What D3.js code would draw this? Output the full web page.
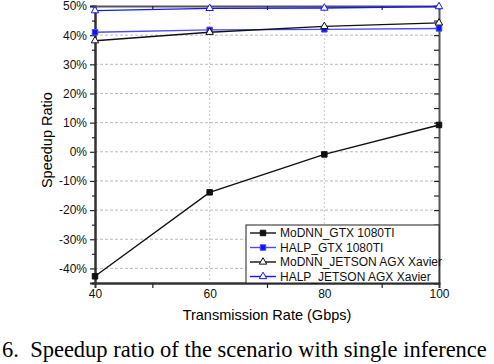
<!DOCTYPE html>
<html>
<head>
<meta charset="utf-8">
<script src="https://cdn.jsdelivr.net/npm/d3@7"></script>
<style>
  body { margin: 0; background: #fff; }
  svg { display: block; }
</style>
</head>
<body>
<script>
// Chart data
const rates = [40, 60, 80, 100];
const modnnGtx = [-42.7, -13.9, -0.9, 9.2];
const halpGtx = [41.0, 41.8, 42.0, 42.3];
const modnnJetson = [38.1, 41.0, 43.0, 44.2];
const halpJetson = [48.4, 49.2, 49.3, 49.8];
const seriesNames = ["MoDNN_GTX 1080TI", "HALP_GTX 1080TI", "MoDNN_JETSON AGX Xavier", "HALP_JETSON AGX Xavier"];
const yTicks = [-40, -30, -20, -10, 0, 10, 20, 30, 40, 50];

const width = 494, height = 364;
const margin = { top: 6, right: 55, bottom: 81, left: 95 };

const svg = d3.select("body").append("svg")
    .attr("width", width)
    .attr("height", height)
    .style("font-family", "'Liberation Sans', Arial, sans-serif");

const x = d3.scaleLinear().domain([40, 100]).range([margin.left, width - margin.right]);
const y = d3.scaleLinear().domain([-45, 50]).range([height - margin.bottom, margin.top]);

// grid lines
svg.append("g").selectAll("line.h")
    .data(yTicks.filter(d => d < 50))
    .enter().append("line")
    .attr("x1", x(40)).attr("x2", x(100))
    .attr("y1", d => y(d)).attr("y2", d => y(d))
    .attr("stroke", "#aaa").attr("stroke-dasharray", "3,2").attr("stroke-width", 0.8);

svg.append("g").selectAll("line.v")
    .data([60, 80])
    .enter().append("line")
    .attr("x1", d => x(d)).attr("x2", d => x(d))
    .attr("y1", y(50)).attr("y2", y(-45))
    .attr("stroke", "#bbb").attr("stroke-dasharray", "2,2").attr("stroke-width", 0.8);

// axes
const fmt = d => d + "%";
const yAxis = svg.append("g")
    .attr("transform", `translate(${margin.left},0)`)
    .call(d3.axisLeft(y).tickValues(yTicks).tickFormat(fmt).tickSize(5).tickPadding(3));
const yMinor = svg.append("g")
    .attr("transform", `translate(${margin.left},0)`)
    .call(d3.axisLeft(y).tickValues(d3.range(-45, 50, 10)).tickFormat("").tickSize(3));
const yRight = svg.append("g")
    .attr("transform", `translate(${width - margin.right},0)`)
    .call(d3.axisLeft(y).tickValues(d3.range(-45, 51, 5)).tickFormat("").tickSize(5));
const xAxis = svg.append("g")
    .attr("transform", `translate(0,${height - margin.bottom})`)
    .call(d3.axisBottom(x).tickValues(rates).tickSize(0).tickPadding(6));
const xMinor = svg.append("g")
    .attr("transform", `translate(0,${height - margin.bottom})`)
    .call(d3.axisBottom(x).tickValues([50, 70, 90]).tickFormat("").tickSize(5));
const xTop = svg.append("g")
    .attr("transform", `translate(0,${margin.top})`)
    .call(d3.axisBottom(x).tickValues([50, 70, 90]).tickFormat("").tickSize(4));

[yAxis, yMinor, yRight, xAxis, xMinor, xTop].forEach(g => {
    g.select(".domain").attr("stroke", "#333").attr("stroke-width", 2);
    g.selectAll(".tick line").attr("stroke", "#222").attr("stroke-width", 1.2);
    g.selectAll("text").attr("font-size", 12).attr("fill", "#111")
        .style("font-family", "'Liberation Sans', Arial, sans-serif");
});
xTop.select(".domain").attr("stroke", "#555");
yRight.select(".domain").attr("stroke", "#555");

// series
const series = [
    { name: seriesNames[0], values: modnnGtx, color: "#111", shape: "square", fill: "#111" },
    { name: seriesNames[1], values: halpGtx, color: "#4a4aff", shape: "square", fill: "#1010ff" },
    { name: seriesNames[2], values: modnnJetson, color: "#111", shape: "triangle", fill: "#fff" },
    { name: seriesNames[3], values: halpJetson, color: "#1515ff", shape: "triangle", fill: "#fff" }
];

const line = d3.line().x((d, i) => x(rates[i])).y(d => y(d));
const symbol = s => d3.symbol().type(s === "square" ? d3.symbolSquare : d3.symbolTriangle).size(s === "square" ? 30 : 24)();

series.forEach(s => {
    svg.append("path")
        .datum(s.values)
        .attr("d", line)
        .attr("fill", "none")
        .attr("stroke", s.color)
        .attr("stroke-width", 1.4);
    svg.selectAll(null)
        .data(s.values)
        .enter().append("path")
        .attr("d", symbol(s.shape))
        .attr("transform", (d, i) => `translate(${x(rates[i])},${y(d)})`)
        .attr("fill", s.fill)
        .attr("stroke", s.color)
        .attr("stroke-width", 1);
});

// legend
const legend = svg.append("g").attr("transform", "translate(246,225)");
legend.append("rect")
    .attr("width", 193).attr("height", 58)
    .attr("fill", "#fff").attr("stroke", "#222").attr("stroke-width", 1);
series.forEach((s, i) => {
    const row = legend.append("g").attr("transform", `translate(0,${8 + i * 14.5})`);
    row.append("line").attr("x1", 4).attr("x2", 30).attr("stroke", s.color).attr("stroke-width", 1.4);
    row.append("path").attr("d", symbol(s.shape)).attr("transform", "translate(17,0)")
        .attr("fill", s.fill).attr("stroke", s.color);
    row.append("text").attr("x", 34).attr("dy", "0.35em")
        .attr("font-size", 12).attr("fill", "#111").text(s.name);
});

// axis titles
svg.append("text")
    .attr("x", x(70)).attr("y", 320)
    .attr("text-anchor", "middle")
    .attr("font-size", 14.5)
    .text("Transmission Rate (Gbps)");

svg.append("text")
    .attr("transform", `translate(52,${y(4)}) rotate(-90)`)
    .attr("text-anchor", "middle")
    .attr("font-size", 14.5)
    .text("Speedup Ratio");

// caption
svg.append("text")
    .attr("x", 2).attr("y", 357)
    .attr("font-family", "'Liberation Serif', 'Times New Roman', serif")
    .attr("font-size", 22.5)
    .attr("xml:space", "preserve")
    .text("6.  Speedup ratio of the scenario with single inference");
</script>
</body>
</html>
